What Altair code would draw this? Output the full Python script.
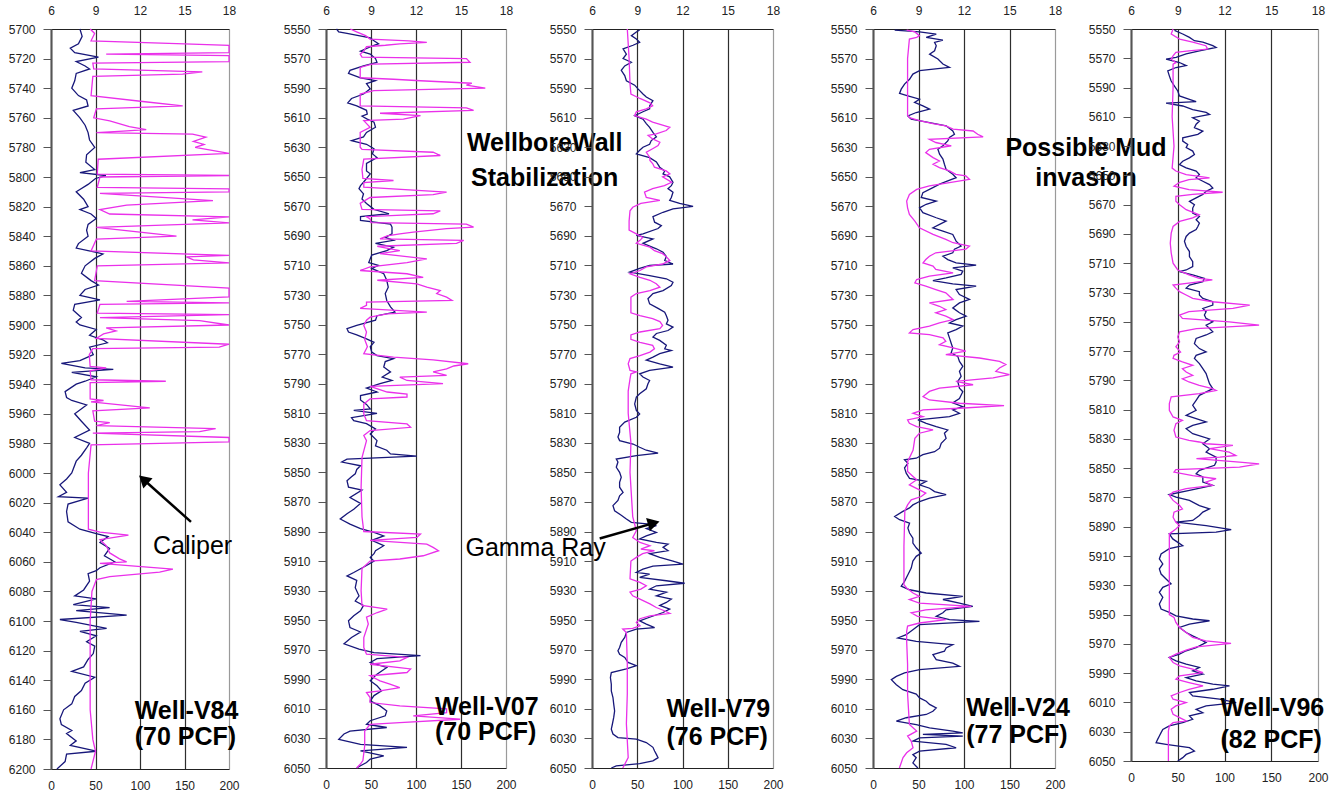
import math
import altair as alt
import pandas as pd

NAVY = "#17177a"
MAGENTA = "#ea30ea"
FONT = "Liberation Sans"

# ---------------- log readings: (depth ft, caliper in) and (depth ft, gamma API) ----------------
V84_CALIPER = [
    (5700, 7.95), (5705, 8.1), (5710, 7.85), (5713, 7.3), (5716, 7.6), (5719, 9.2), (5722, 7.7), (5725, 8.3),
    (5727, 8.6), (5730, 7.7), (5735, 7.6), (5740, 7.4), (5745, 7.85), (5748, 8.4), (5752, 8.5), (5755, 7.5),
    (5760, 7.95), (5765, 8.3), (5770, 8.5), (5775, 8.6), (5780, 8.95), (5785, 8.4), (5790, 8.35), (5795, 8.95),
    (5797, 7.95), (5799, 9.7), (5801, 9.0), (5805, 8.5), (5810, 7.7), (5815, 8.2), (5820, 8.5), (5822, 7.95),
    (5825, 8.7), (5828, 9.05), (5832, 8.5), (5836, 8.4), (5840, 8.5), (5845, 7.85), (5848, 7.7), (5851, 9.05),
    (5852, 9.5), (5855, 8.95), (5860, 8.3), (5865, 8.05), (5870, 8.7), (5873, 9.2), (5876, 8.3), (5880, 7.95),
    (5883, 9.3), (5886, 7.6), (5890, 7.5), (5895, 8.05), (5898, 7.7), (5900, 7.95), (5903, 9.05), (5907, 8.6),
    (5910, 9.5), (5912, 9.8), (5915, 8.6), (5920, 8.85), (5924, 7.95), (5926, 6.7), (5929, 8.3), (5930, 10.2),
    (5932, 7.4), (5935, 9.05), (5938, 8.3), (5940, 7.7), (5945, 6.95), (5949, 7.05), (5951, 7.4), (5954, 8.4),
    (5960, 7.6), (5965, 8.05), (5971, 8.6), (5976, 7.6), (5980, 8.6), (5983, 8.4), (5988, 8.05), (5992, 7.7),
    (6000, 7.4), (6004, 7.05), (6008, 6.6), (6013, 7.05), (6016, 6.5), (6017, 8.5), (6021, 7.15), (6026, 7.05),
    (6033, 7.15), (6038, 7.95), (6041, 9.05), (6043, 9.85), (6047, 9.3), (6051, 9.95), (6056, 9.6), (6060, 10.3),
    (6064, 9.3), (6066, 9.05), (6068, 8.5), (6073, 8.6), (6079, 8.2), (6083, 7.6), (6085, 9.05), (6089, 7.5),
    (6091, 9.95), (6093, 7.7), (6096, 11.1), (6099, 6.6), (6101, 7.7), (6105, 9.75), (6107, 7.95), (6110, 9.05),
    (6114, 8.4), (6117, 8.95), (6122, 8.85), (6126, 8.5), (6131, 8.2), (6134, 7.4), (6138, 8.95), (6142, 8.3),
    (6147, 8.05), (6151, 7.6), (6156, 7.4), (6160, 6.85), (6166, 6.6), (6170, 6.7), (6174, 7.4), (6176, 7.05),
    (6181, 7.7), (6184, 7.3), (6188, 9.05), (6190, 7.05), (6195, 6.95), (6200, 6.4),
]
V84_GAMMA = [
    (5700, 44), (5703, 49), (5708, 45), (5710, 150), (5711, 200), (5716, 200), (5717, 62), (5718, 200),
    (5722, 200), (5723, 47), (5727, 48), (5729, 170), (5730.5, 148), (5732, 47), (5745, 45), (5749, 103),
    (5752, 148), (5754, 51), (5760, 48), (5762, 66), (5766, 88), (5768, 107), (5769, 81), (5770, 51),
    (5771, 159), (5773, 174), (5776, 160), (5778, 172), (5780, 162), (5784, 200), (5788, 53), (5798, 52),
    (5799, 200), (5800, 55), (5807, 52), (5808, 200), (5810, 200), (5811, 55), (5816, 182), (5819, 85),
    (5822, 55), (5825, 66), (5827, 200), (5829, 159), (5831, 200), (5834, 51), (5840, 141), (5842, 51),
    (5850, 45), (5853, 200), (5854, 152), (5856, 160), (5858, 200), (5860, 52), (5870, 49), (5875, 200),
    (5881, 200), (5884, 85), (5885, 200), (5886, 55), (5892, 52), (5893, 200), (5895, 55), (5897, 167),
    (5900, 200), (5902, 62), (5904, 73), (5906, 59), (5909, 51), (5913, 200), (5915, 189), (5916, 47),
    (5920, 43), (5928, 44), (5929, 62), (5931, 44), (5937, 45), (5938, 129), (5939, 44), (5950, 44),
    (5951, 59), (5952, 45), (5956, 111), (5958, 47), (5965, 49), (5966, 66), (5968, 51), (5970, 185),
    (5972, 167), (5973, 47), (5976, 200), (5979, 200), (5981, 45), (6000, 42), (6020, 42), (6038, 42),
    (6040, 55), (6042, 87), (6045, 55), (6049, 62), (6054, 66), (6058, 77), (6060, 85), (6061, 55),
    (6065, 137), (6067, 122), (6070, 66), (6072, 51), (6080, 46), (6100, 44), (6130, 44), (6160, 44),
    (6180, 47), (6188, 50), (6200, 45),
]

V07_CALIPER = [
    (5550, 6.7), (5552, 6.85), (5553, 7.4), (5556, 8.95), (5558, 9.2), (5560, 9.5), (5561, 9.2), (5565, 8.3),
    (5567, 8.95), (5570, 9.3), (5572.5, 9.4), (5575, 8.5), (5578, 7.6), (5580, 7.5), (5583, 8.3), (5585, 9.3),
    (5587, 8.7), (5590.5, 8.95), (5594, 8.5), (5597, 7.7), (5600, 7.45), (5602, 8.05), (5605, 8.7),
    (5607.5, 8.75), (5609, 8.4), (5611, 8.75), (5613, 9.2), (5616.5, 9.3), (5620, 8.7), (5623, 8.5),
    (5625.5, 7.7), (5628, 8.7), (5631, 9.2), (5634.5, 9.1), (5637, 9.4), (5641, 8.7), (5646, 8.7),
    (5648, 8.95), (5653.7, 8.5), (5656, 8.3), (5658, 8.2), (5661.5, 8.5), (5665, 8.4), (5668, 8.7),
    (5672, 9.2), (5675, 10.2), (5677, 8.3), (5679.5, 8.3), (5682, 10.3), (5684, 10.4), (5688.6, 10.4),
    (5691, 9.95), (5693, 10.5), (5695, 9.3), (5697.6, 10.5), (5700, 10.05), (5703, 9.05), (5705.5, 8.95),
    (5708, 8.85), (5710, 9.5), (5712, 9.05), (5715.6, 9.85), (5720, 10.05), (5724.7, 10.15), (5729, 9.95),
    (5733.7, 10.05), (5738, 10.3), (5741.6, 10.6), (5744, 9.4), (5747, 9.3), (5750.6, 8.05), (5752.8, 7.4),
    (5755, 7.5), (5757, 8.05), (5759.6, 8.7), (5762, 9.2), (5765, 8.95), (5768.6, 9.05), (5771, 9.4),
    (5773, 10.5), (5775, 9.95), (5778.7, 9.85), (5782, 10.3), (5785.5, 9.75), (5787.8, 10.4), (5790, 9.6),
    (5793, 8.7), (5795.6, 9.4), (5798, 8.3), (5801, 8.3), (5804, 8.7), (5807, 8.95), (5808, 7.85),
    (5810, 9.4), (5813, 7.7), (5815, 7.85), (5817, 8.7), (5820.6, 9.3), (5824, 8.95), (5828.5, 9.4),
    (5832, 9.3), (5835, 10.05), (5837.5, 10.3), (5839, 12.05), (5841, 7.4), (5843, 7.05), (5845.5, 8.3),
    (5848, 8.05), (5851, 7.95), (5853, 7.7), (5855.6, 7.4), (5860, 7.5), (5862, 8.4), (5867, 7.6),
    (5871, 8.3), (5875, 7.85), (5878, 7.4), (5881.5, 6.95), (5885, 7.6), (5888, 8.3), (5890.6, 9.2),
    (5893, 9.85), (5896, 9.05), (5899.6, 9.85), (5903, 9.3), (5905, 9.2), (5907.5, 8.95), (5910, 9.2),
    (5913, 8.7), (5917.7, 7.85), (5920, 7.4), (5923, 8.05), (5928, 7.95), (5933.5, 8.2), (5937, 7.95),
    (5940, 8.5), (5943.6, 8.3), (5947, 7.85), (5950.4, 7.5), (5955, 7.6), (5958, 8.3), (5961.7, 7.7),
    (5966, 7.2), (5969.6, 8.2), (5972, 9.2), (5974, 12.3), (5976, 9.4), (5978.6, 8.95), (5982, 10.05),
    (5986.5, 9.4), (5991, 8.95), (5994.4, 9.4), (5997.8, 9.7), (6001, 9.2), (6004.6, 8.95), (6008, 9.6),
    (6011.4, 10.05), (6014.7, 9.95), (6018, 8.95), (6020.4, 8.7), (6022.6, 10.05), (6025, 7.6), (6027, 7.2),
    (6030.6, 6.85), (6034, 8.3), (6036, 11.4), (6038.4, 8.3), (6041.8, 9.85), (6044, 8.95), (6046.3, 8.7),
    (6048.5, 8.3), (6050, 8.05),
]
V07_GAMMA = [
    (5550, 27), (5552, 34), (5554.5, 44), (5556.8, 49), (5558, 92), (5559, 112), (5560, 82), (5561, 66),
    (5562, 45), (5565, 42), (5567, 38), (5569, 40), (5570, 156), (5572.5, 160), (5573.7, 51), (5576, 38),
    (5583, 38), (5584, 75), (5585, 105), (5586.7, 162), (5588, 156), (5590, 177), (5591.7, 53), (5594, 38),
    (5602, 38), (5603.4, 156), (5605, 164), (5607, 60), (5608.6, 105), (5611, 86), (5612, 42), (5616.5, 49),
    (5620, 38), (5630, 38), (5631.5, 40), (5633.4, 119), (5635.6, 127), (5638, 42), (5645, 40), (5651, 41),
    (5652.5, 75), (5654, 42), (5657, 42), (5660.4, 134), (5662, 119), (5664, 49), (5668, 38), (5672, 40),
    (5673, 127), (5675, 119), (5677, 45), (5678.5, 49), (5681, 50), (5682, 156), (5684, 164), (5685, 134),
    (5687.5, 97), (5688.6, 82), (5690, 68), (5692, 60), (5693, 153), (5695, 145), (5697, 57), (5700, 82),
    (5702, 60), (5705.5, 112), (5708, 90), (5711, 49), (5713.4, 38), (5715.6, 90), (5718, 108), (5720, 57),
    (5722.4, 101), (5724.7, 112), (5727, 127), (5729, 123), (5731.4, 134), (5733.7, 140), (5734.8, 45),
    (5737, 45), (5739, 38), (5741.6, 112), (5742.7, 68), (5745, 49), (5747, 45), (5750.6, 42), (5755, 45),
    (5760, 43), (5765, 46), (5769.7, 42), (5772, 75), (5773.8, 119), (5776.5, 158), (5778, 142), (5780, 134),
    (5782, 119), (5784.4, 134), (5785.5, 82), (5787.8, 90), (5790, 130), (5791.8, 49), (5795.6, 68),
    (5797, 90), (5799, 90), (5800.3, 49), (5803.7, 42), (5810.5, 42), (5815, 45), (5817.2, 90), (5819.5, 94),
    (5821.7, 49), (5825, 42), (5828.5, 45), (5840, 40), (5860, 39), (5880, 40), (5890, 42), (5891.7, 105),
    (5894, 101), (5896, 49), (5898.5, 112), (5900.7, 119), (5903, 125), (5906.4, 108), (5908.6, 82),
    (5910, 49), (5915, 40), (5930, 39), (5940, 40), (5942.5, 68), (5944.8, 57), (5948, 45), (5952.6, 47),
    (5961.7, 42), (5968.5, 42), (5973, 45), (5975.2, 90), (5977.5, 82), (5979.8, 49), (5983, 94),
    (5985.4, 90), (5987.6, 49), (5991, 60), (5993.3, 71), (5995.6, 82), (5997.8, 60), (5999, 45),
    (6002.3, 49), (6005.7, 49), (6008, 82), (6010, 134), (6012.5, 134), (6014.7, 97), (6017, 149),
    (6019.3, 82), (6020.5, 49), (6025, 43), (6035, 43), (6045, 41), (6047.5, 38), (6050, 34),
]

V79_CALIPER = [
    (5550.7, 9.16), (5552, 8.94), (5554.5, 8.61), (5556.8, 8.94), (5559, 9.16), (5561, 8.72), (5563.5, 8.06),
    (5567, 8.28), (5570, 8.06), (5572.5, 8.61), (5575, 8.17), (5578, 7.94), (5581.5, 8.17), (5585, 8.28),
    (5588, 8.83), (5590.5, 9.05), (5594, 9.38), (5596, 9.6), (5598.5, 10.04), (5602, 9.82), (5604, 9.82),
    (5606, 9.38), (5608.6, 8.83), (5611, 9.38), (5614, 9.6), (5616.5, 9.82), (5620, 10.04), (5623, 10.27),
    (5625.5, 9.93), (5628, 9.82), (5630, 9.38), (5632, 9.16), (5634.5, 8.94), (5637, 9.82), (5640, 10.27),
    (5643.5, 10.49), (5646, 10.82), (5648, 10.71), (5650, 11.15), (5653.7, 11.37), (5656, 11.26),
    (5658, 11.04), (5660.4, 11.37), (5664, 11.26), (5666, 11.15), (5668, 11.81), (5670, 12.7),
    (5671.7, 11.37), (5674, 10.71), (5677, 10.04), (5680.7, 10.15), (5683, 10.6), (5685, 10.38),
    (5688.6, 9.38), (5689.7, 8.94), (5692, 10.04), (5695, 9.38), (5698.7, 10.27), (5701, 10.71),
    (5704, 10.93), (5706.6, 10.82), (5709, 11.37), (5710, 9.82), (5712, 9.16), (5714.5, 8.5), (5716.8, 9.82),
    (5719, 10.93), (5721.3, 11.37), (5723.5, 11.26), (5727, 10.71), (5729, 10.04), (5732.5, 9.71),
    (5736, 9.82), (5739, 10.38), (5741.6, 10.82), (5744, 10.93), (5747, 11.04), (5749.5, 10.93),
    (5751.7, 11.37), (5754, 11.04), (5756, 10.27), (5758.5, 10.04), (5760.7, 10.49), (5764, 10.93),
    (5766.4, 10.82), (5767.5, 11.26), (5769.7, 10.49), (5772, 10.04), (5774, 9.6), (5776.5, 10.49),
    (5778.7, 11.37), (5781, 9.82), (5783.3, 9.16), (5785.5, 9.38), (5787.8, 9.82), (5790, 9.71),
    (5793.4, 9.6), (5796.8, 9.16), (5799, 8.94), (5803.7, 8.83), (5808, 8.94), (5810.5, 9.16),
    (5812.7, 8.94), (5816, 8.17), (5819.5, 7.83), (5823, 7.83), (5826, 7.72), (5828.5, 7.83),
    (5830.8, 8.72), (5833, 9.16), (5835, 9.6), (5837, 10.38), (5838.7, 8.94), (5841, 7.61), (5843, 7.72),
    (5846.5, 7.61), (5850, 7.83), (5853.3, 7.94), (5856.7, 7.83), (5860, 7.83), (5863.5, 8.06),
    (5865.8, 7.83), (5869, 7.72), (5872.5, 7.39), (5876, 7.5), (5879, 7.94), (5881.5, 8.28), (5883.8, 8.61),
    (5885, 9.82), (5886, 10.27), (5888, 9.6), (5890.6, 10.27), (5893, 9.6), (5895, 9.16), (5897.4, 10.27),
    (5898.5, 11.04), (5900.7, 10.71), (5903, 11.04), (5905, 9.82), (5907.5, 10.49), (5910, 11.37),
    (5912, 12.03), (5913.4, 10.04), (5915.4, 9.38), (5917.7, 8.94), (5918.8, 9.82), (5921, 9.16),
    (5923.3, 10.93), (5925, 12.14), (5926.7, 10.27), (5929, 9.82), (5931, 10.93), (5933.5, 10.27),
    (5935.7, 11.26), (5938, 10.93), (5940, 10.49), (5942.5, 11.15), (5944.8, 10.71), (5948, 9.82),
    (5950.4, 9.16), (5952.6, 9.6), (5955, 10.15), (5956, 8.94), (5958.3, 8.28), (5961.7, 8.17),
    (5965, 7.94), (5968.5, 7.83), (5970.7, 7.72), (5973, 7.83), (5975.2, 8.17), (5978.6, 8.39),
    (5980.8, 8.94), (5983, 8.28), (5985.4, 7.28), (5988.8, 7.22), (5993.3, 7.28), (5997.8, 7.28),
    (6002.3, 7.39), (6006.8, 7.44), (6011.4, 7.5), (6015.8, 7.44), (6020.4, 7.35), (6023.7, 7.28),
    (6027, 7.39), (6029.4, 7.72), (6030.5, 8.94), (6032.8, 9.6), (6036, 10.04), (6038.5, 10.15),
    (6040.8, 10.27), (6043, 10.38), (6045.2, 10.04), (6047, 9.16), (6048.6, 7.61), (6050, 7.28),
]
V79_GAMMA = [
    (5550, 39), (5570, 41), (5587, 42), (5594, 43), (5597, 53), (5600, 64), (5602, 67), (5604, 60),
    (5606, 49), (5608.6, 47), (5611, 60), (5613, 67), (5615, 78), (5616.5, 86), (5618.7, 82), (5621, 71),
    (5622, 62), (5624.4, 67), (5626.6, 75), (5628.9, 73), (5631, 67), (5633.4, 60), (5637, 64), (5639, 64),
    (5641, 67), (5643.5, 69), (5646, 82), (5648, 86), (5650, 78), (5653.7, 88), (5656, 80), (5658, 67),
    (5660.4, 58), (5664, 60), (5666, 75), (5668, 54), (5670.6, 45), (5673, 42), (5680, 41), (5686, 41),
    (5688.6, 49), (5691, 56), (5693, 53), (5695, 49), (5697.6, 64), (5700, 69), (5702, 78), (5704, 82),
    (5706.6, 86), (5709, 78), (5711, 60), (5713.4, 53), (5715.6, 42), (5718, 53), (5720, 64), (5722.4, 71),
    (5724.7, 75), (5727, 64), (5729, 49), (5731.4, 43), (5742, 43), (5744, 53), (5746, 67), (5748, 75),
    (5750.6, 78), (5752.8, 75), (5755, 53), (5757, 43), (5760, 43), (5762, 53), (5764, 67), (5766.4, 69),
    (5768.6, 64), (5771, 53), (5773, 42), (5776.5, 40), (5781, 42), (5782, 49), (5783.3, 43), (5786.7, 42),
    (5795, 40), (5810, 40), (5830, 43), (5850, 42), (5870, 44), (5880, 45), (5889.5, 49), (5894, 45),
    (5897.4, 53), (5899.6, 64), (5901.9, 54), (5903, 69), (5905, 56), (5907.5, 49), (5910, 43), (5922, 42),
    (5924.4, 53), (5926.7, 60), (5929, 54), (5931, 42), (5933.5, 45), (5935.7, 53), (5939, 64), (5941.4, 71),
    (5943.6, 80), (5945.4, 86), (5947, 64), (5949, 53), (5951.5, 49), (5953.8, 53), (5955.5, 45),
    (5956, 34), (5958.3, 38), (5980, 39), (6000, 39), (6020, 38), (6043, 40), (6050, 34),
]

V24_CALIPER = [
    (5550.7, 7.43), (5552, 9.07), (5553.4, 10.17), (5555.6, 9.51), (5557.5, 10.61), (5559, 10.06),
    (5561.3, 10.17), (5564.7, 10.06), (5567, 9.73), (5570.3, 10.28), (5573.7, 10.61), (5576, 11.04),
    (5578.2, 9.07), (5580.5, 8.63), (5584, 8.41), (5587.3, 8.08), (5590.7, 7.86), (5593.6, 7.75),
    (5595.2, 8.3), (5597.5, 9.07), (5599.7, 8.74), (5602, 9.29), (5604.2, 9.73), (5606.5, 8.85),
    (5608.8, 8.3), (5611, 8.52), (5613.3, 9.73), (5615.5, 10.82), (5619, 11.26), (5621.2, 11.37),
    (5623.4, 11.04), (5625.7, 10.93), (5629, 10.61), (5631.4, 10.28), (5634.7, 10.39), (5638, 10.61),
    (5641.5, 10.71), (5645, 10.82), (5648.3, 11.26), (5650.6, 11.48), (5652.8, 10.93), (5655, 10.39),
    (5657.3, 9.95), (5660.7, 9.29), (5664, 9.18), (5666.4, 10.17), (5668.6, 9.51), (5671, 9.07),
    (5674.3, 9.29), (5677.7, 10.17), (5680, 10.82), (5682.2, 10.39), (5684.5, 9.95), (5686.7, 10.61),
    (5689, 11.26), (5691.2, 11.37), (5693.5, 11.48), (5696.9, 11.81), (5699, 11.37), (5701.4, 11.26),
    (5703.7, 10.61), (5706, 10.93), (5708.2, 11.48), (5709.8, 12.8), (5711.6, 11.26), (5713.8, 11.92),
    (5716, 11.81), (5718.4, 10.82), (5720.2, 9.95), (5722.4, 11.26), (5724, 12.8), (5726.3, 11.48),
    (5729.7, 11.7), (5733, 12.36), (5735.3, 11.7), (5738.7, 11.26), (5742, 11.7), (5744.3, 12.14),
    (5746.6, 11.48), (5748.9, 11.04), (5751, 11.92), (5753.4, 11.48), (5755.6, 10.93), (5759, 11.04),
    (5762.4, 11.15), (5765.8, 11.26), (5769.2, 11.15), (5771.5, 11.59), (5774.9, 11.7), (5778.2, 11.92),
    (5781.6, 11.7), (5785, 11.81), (5788.4, 11.59), (5793, 11.7), (5795.4, 11.92), (5800, 11.7),
    (5803, 11.26), (5805.5, 11.92), (5807.7, 11.26), (5810, 11.7), (5812.2, 11.04), (5814.5, 8.96),
    (5816.8, 9.51), (5819, 10.17), (5821.3, 10.93), (5823.5, 10.71), (5827, 10.82), (5830.3, 10.5),
    (5833.6, 10.39), (5836, 10.06), (5838, 9.29), (5840.4, 8.85), (5841.5, 8.08), (5843.8, 8.3),
    (5847, 8.08), (5850.5, 8.19), (5854, 8.41), (5856, 9.51), (5858.4, 9.07), (5860.7, 9.73),
    (5863, 10.06), (5865, 10.82), (5867.4, 9.73), (5869.7, 9.07), (5872, 8.63), (5874, 8.41),
    (5876.4, 7.97), (5879.8, 7.43), (5882, 7.75), (5884.3, 8.41), (5887.7, 8.3), (5891, 8.41),
    (5894.5, 8.63), (5897.8, 8.63), (5901, 8.85), (5904.6, 9.18), (5906.8, 8.85), (5910, 8.63),
    (5914.7, 8.52), (5919.2, 8.3), (5923.7, 8.08), (5927, 7.86), (5929.4, 8.41), (5931.6, 9.51),
    (5933.9, 11.92), (5936, 10.61), (5938.4, 11.7), (5940.6, 12.58), (5943, 10.82), (5945, 10.61),
    (5947.4, 10.17), (5949.6, 11.04), (5950.8, 13.02), (5953, 9.07), (5956.4, 8.63), (5959.8, 8.19),
    (5962, 7.64), (5964.3, 8.85), (5966.5, 11.26), (5968.8, 10.82), (5971, 10.71), (5973.3, 9.95),
    (5976.7, 10.17), (5979, 11.26), (5981.2, 11.7), (5983.4, 9.07), (5985.7, 8.08), (5988, 7.54),
    (5990.2, 7.21), (5993.6, 7.54), (5997, 7.97), (6000, 8.85), (6002.6, 9.07), (6004.8, 9.51),
    (6007, 9.73), (6009.3, 10.17), (6011.6, 9.95), (6013.8, 9.51), (6016, 8.19), (6018.3, 7.54),
    (6020.6, 8.85), (6022.8, 9.73), (6025, 11.26), (6026.2, 11.92), (6027.3, 9.29), (6028.4, 11.92),
    (6029.6, 9.07), (6031.8, 8.63), (6034, 10.82), (6036.3, 11.48), (6038.6, 9.07), (6040.9, 8.63),
    (6043, 8.85), (6046.6, 8.63), (6050, 8.96),
]
V24_GAMMA = [
    (5550.7, 37), (5552, 46), (5554.5, 51), (5555.6, 48), (5556.8, 40), (5570, 38), (5590, 38), (5608, 38),
    (5610, 40), (5612, 51), (5614, 66), (5615.5, 80), (5617.8, 88), (5619, 110), (5621.2, 115), (5623, 121),
    (5624.6, 62), (5626.8, 69), (5629, 86), (5631.4, 62), (5633.6, 58), (5637, 66), (5639.3, 73),
    (5641.5, 66), (5643.8, 73), (5646, 84), (5648.3, 91), (5649.4, 102), (5651.7, 106), (5654, 84),
    (5656.2, 62), (5658.5, 48), (5661.9, 40), (5666.4, 37), (5671, 38), (5675.4, 40), (5680, 46),
    (5684.5, 51), (5689, 66), (5692.4, 80), (5694.6, 88), (5696.9, 106), (5699, 102), (5701.4, 69),
    (5703.7, 62), (5706, 58), (5708.2, 55), (5710.4, 66), (5712.7, 69), (5715, 88), (5717.2, 62),
    (5719.5, 48), (5721.7, 46), (5724, 58), (5726.3, 69), (5728.5, 80), (5730.8, 84), (5733, 88),
    (5735.3, 62), (5737.6, 73), (5739.8, 80), (5742, 69), (5744.3, 80), (5746.6, 88), (5748.9, 73),
    (5751, 62), (5753.4, 44), (5755.6, 40), (5756.8, 62), (5759, 77), (5761.3, 80), (5763.6, 73),
    (5765.8, 88), (5768, 102), (5770.3, 80), (5772.6, 117), (5774.9, 139), (5777, 146), (5779.4, 139),
    (5781.6, 135), (5783.9, 150), (5786, 132), (5788.4, 91), (5790.7, 110), (5793, 73), (5795.2, 62),
    (5798.7, 55), (5801, 62), (5803.2, 95), (5804.8, 144), (5806.6, 95), (5807.7, 55), (5810, 44),
    (5812.2, 55), (5814.5, 38), (5816.8, 40), (5819, 48), (5821.3, 66), (5823.5, 51), (5827, 46),
    (5835, 44), (5842.7, 38), (5849.4, 38), (5852.8, 44), (5855, 48), (5858.4, 40), (5861.8, 51),
    (5864, 58), (5866.3, 53), (5868.6, 42), (5872, 38), (5876, 35), (5900, 34), (5926, 34), (5928.2, 37),
    (5931.6, 44), (5933.9, 51), (5936, 40), (5938.4, 51), (5940.6, 108), (5943, 58), (5945, 42),
    (5947.4, 49), (5949.6, 80), (5951.9, 51), (5954, 38), (5957.5, 37), (5964.3, 37), (5980, 38),
    (6000, 38), (6020.6, 40), (6025, 48), (6028.4, 38), (6031.8, 42), (6036.3, 44), (6039.7, 37),
    (6043, 33), (6050, 29),
]

V96_CALIPER = [
    (5551, 8.79), (5553.4, 9.32), (5555.7, 9.75), (5558, 10.07), (5559, 10.61), (5561.4, 11.25),
    (5562.6, 11.46), (5565, 10.39), (5567, 9.54), (5569.4, 8.89), (5570.6, 8.25), (5572.9, 9.11),
    (5575, 9.54), (5576.3, 8.89), (5578.6, 8.36), (5582, 8.46), (5585.4, 8.57), (5589, 8.79), (5592.3, 9.0),
    (5595.7, 9.11), (5598, 9.75), (5599.6, 10.18), (5600.7, 8.25), (5602.6, 9.32), (5605, 9.96),
    (5607, 10.82), (5608.3, 11.04), (5610.6, 9.96), (5612.9, 10.39), (5615, 10.18), (5617.4, 10.07),
    (5619.7, 10.61), (5622, 10.29), (5624.3, 9.32), (5626.6, 9.32), (5628.9, 9.64), (5631, 9.54),
    (5633.4, 9.96), (5635.7, 10.07), (5638, 9.75), (5640.3, 9.32), (5642.6, 9.11), (5644.9, 9.54),
    (5647, 10.18), (5649.4, 10.39), (5651.7, 10.18), (5654, 10.61), (5656.3, 11.04), (5658.6, 11.25),
    (5660.9, 10.82), (5663, 10.61), (5665.4, 10.18), (5667.7, 9.75), (5670, 10.07), (5672.3, 9.96),
    (5675.7, 9.96), (5678, 10.39), (5680.3, 10.18), (5682.6, 10.39), (5684.9, 10.29), (5687, 10.18),
    (5689.4, 9.75), (5691.7, 9.54), (5695, 9.43), (5698.6, 9.54), (5702, 9.75), (5705.4, 9.75),
    (5708.9, 9.96), (5712.3, 9.96), (5714.6, 9.54), (5715.7, 9.11), (5718, 9.96), (5720.3, 10.71),
    (5722.6, 10.61), (5724.9, 9.75), (5727, 9.54), (5729.4, 10.39), (5731.7, 10.39), (5734, 10.61),
    (5736.3, 11.25), (5738.6, 11.25), (5740.9, 10.61), (5743.1, 10.82), (5745.4, 10.71), (5747.7, 10.82),
    (5750, 11.25), (5752.3, 10.82), (5754.6, 11.04), (5756.9, 11.25), (5759, 10.82), (5761.4, 10.18),
    (5764.9, 10.07), (5768.3, 10.39), (5770.6, 10.82), (5772.9, 10.18), (5775, 10.07), (5778.6, 10.39),
    (5782, 10.61), (5785.4, 10.82), (5788.9, 10.93), (5792.3, 11.04), (5795.7, 11.25), (5800.2, 10.39),
    (5803.6, 10.18), (5807, 9.96), (5810.5, 10.18), (5813.9, 9.54), (5816.2, 10.18), (5818.4, 10.82),
    (5820.7, 9.96), (5823, 9.54), (5826.4, 9.96), (5830, 11.04), (5833.3, 10.61), (5836.7, 11.04),
    (5839, 10.82), (5842.4, 11.46), (5845.8, 11.46), (5848, 11.36), (5851.5, 10.39), (5853.8, 10.18),
    (5856, 10.61), (5859.5, 10.61), (5861.8, 11.25), (5865.2, 9.75), (5868, 8.46), (5869.8, 8.89),
    (5872, 9.75), (5875.5, 10.39), (5877.8, 11.04), (5880, 10.61), (5882.3, 10.39), (5885.7, 9.96),
    (5886.9, 8.89), (5889.2, 10.82), (5892, 12.43), (5893.7, 11.46), (5894.9, 8.46), (5898.3, 8.68),
    (5902.9, 9.32), (5905, 8.46), (5908.6, 7.93), (5912, 7.82), (5915.4, 8.04), (5918.8, 7.82),
    (5922.3, 7.93), (5925.7, 8.25), (5929, 8.57), (5931.4, 8.04), (5934.8, 7.82), (5938.2, 8.04),
    (5942.8, 7.82), (5946.2, 7.93), (5948.5, 8.46), (5950.8, 8.89), (5953, 9.96), (5954.2, 11.04),
    (5956.5, 9.75), (5958.8, 9.11), (5962.2, 9.54), (5964.5, 9.96), (5966.7, 10.39), (5969, 10.82),
    (5970.2, 10.61), (5972.5, 10.18), (5974.7, 9.54), (5977, 9.11), (5979.3, 8.46), (5981.6, 8.89),
    (5983.9, 9.54), (5986.1, 10.39), (5988.4, 9.96), (5990.7, 10.61), (5993, 9.54), (5995.3, 10.18),
    (5997.5, 11.25), (5998.7, 12.32), (6001, 11.25), (6003.2, 9.75), (6005.5, 9.96), (6007.8, 11.68),
    (6010.1, 12.75), (6012.4, 10.82), (6014.7, 10.18), (6017, 10.61), (6019.2, 9.75), (6021.5, 9.96),
    (6023.8, 9.32), (6026, 8.46), (6028.4, 8.04), (6030.6, 7.93), (6032.9, 7.82), (6035.2, 7.71),
    (6037.5, 7.61), (6038.6, 8.25), (6040.9, 9.75), (6043.2, 10.07), (6045.5, 9.54), (6047.7, 9.32),
    (6050, 9.0),
]
V96_GAMMA = [
    (5550, 45), (5553.4, 43), (5556.9, 52), (5559, 66), (5561.4, 80), (5563.7, 82), (5565, 62), (5566, 48),
    (5568.3, 45), (5570.6, 43), (5573, 48), (5574, 45), (5590, 45), (5610, 44), (5630, 46), (5645, 44),
    (5647, 48), (5649.4, 59), (5650.6, 73), (5651.7, 84), (5652.9, 62), (5654.7, 52), (5657.4, 46),
    (5659.7, 62), (5661.5, 98), (5663, 66), (5664.3, 48), (5667.7, 48), (5670, 52), (5673.4, 59),
    (5676.9, 73), (5679, 66), (5681.4, 52), (5684.9, 45), (5689.4, 43), (5696.3, 42), (5703, 43),
    (5710, 45), (5714.6, 50), (5718, 62), (5720.3, 73), (5721.4, 87), (5723.3, 66), (5724.9, 45),
    (5727, 48), (5729.4, 52), (5731.7, 59), (5734, 66), (5736.3, 87), (5738.6, 127), (5740.9, 109),
    (5743.1, 62), (5745.4, 52), (5747.7, 55), (5750, 105), (5752.3, 137), (5754.6, 70), (5756.9, 52),
    (5760.3, 50), (5763.7, 52), (5767, 48), (5770.6, 53), (5772.9, 46), (5775, 45), (5777.4, 55),
    (5779.7, 66), (5782, 55), (5784.3, 59), (5786.6, 66), (5788.9, 55), (5791.1, 62), (5793.4, 73),
    (5795.7, 87), (5796.9, 91), (5799, 73), (5801.3, 43), (5805.9, 41), (5810.5, 41), (5815, 45),
    (5817.3, 55), (5819.6, 48), (5824, 46), (5828.7, 48), (5831, 62), (5832.1, 73), (5833.3, 80),
    (5834.4, 109), (5836.7, 84), (5839, 105), (5841.3, 112), (5842.4, 95), (5843.5, 70), (5845.8, 116),
    (5847, 137), (5849.2, 116), (5851, 48), (5852.7, 46), (5855, 66), (5857.2, 91), (5859.5, 80),
    (5861.8, 87), (5864, 59), (5866.4, 45), (5868.6, 41), (5872, 45), (5875.5, 52), (5877.8, 55),
    (5880, 46), (5883.5, 45), (5886.9, 48), (5889.2, 52), (5891.5, 48), (5894.9, 41), (5920, 41),
    (5950, 41), (5951.9, 46), (5955.3, 48), (5958.8, 52), (5962.2, 59), (5965.6, 66), (5967.9, 80),
    (5969.7, 107), (5972, 70), (5974.3, 59), (5977, 48), (5979.3, 41), (5982.7, 45), (5985, 52),
    (5987.3, 66), (5989.6, 77), (5991.8, 52), (5994.1, 48), (5996.4, 62), (5998.7, 77), (6001, 62),
    (6003.2, 52), (6005.5, 43), (6007.8, 45), (6010.1, 59), (6012.4, 48), (6014.7, 43), (6018.1, 45),
    (6020.4, 52), (6022.6, 59), (6023.8, 45), (6026, 41), (6029.5, 40), (6050, 40),
]

# ---------------- panel definitions ----------------
CALIPER_TICKS = [6, 9, 12, 15, 18]
GAMMA_TICKS = [0, 50, 100, 150, 200]
DEPTH_SPAN = 500
GAPS = [97, 86, 100, 76]

WELLS = [
    dict(name="Well-V84", mud="(70 PCF)", top=5700, w=178, h=740,
         cal=V84_CALIPER, gr=V84_GAMMA, tag_gr=94, tag_depth=(6166, 6183.5),
         notes=[dict(gr=114.6, depth=6054.9, text="Caliper", align="left", bold=False)],
         arrows=[(157.3, 6033, 98.9, 6001.7)]),
    dict(name="Well-V07", mud="(70 PCF)", top=5550, w=180, h=739,
         cal=V07_CALIPER, gr=V07_GAMMA, tag_gr=121, tag_depth=(6014.4, 6031.3),
         notes=[dict(gr=243, depth=5632.3, text="WellboreWall", align="center", bold=True),
                dict(gr=243, depth=5656.0, text="Stabilization", align="center", bold=True)],
         arrows=[]),
    dict(name="Well-V79", mud="(76 PCF)", top=5550, w=181, h=739,
         cal=V79_CALIPER, gr=V79_GAMMA, tag_gr=82.3, tag_depth=(6015.5, 6034.6),
         notes=[dict(gr=15.2, depth=5906.5, text="Gamma Ray", align="right", bold=False)],
         arrows=[(8.5, 5894.7, 74.6, 5883.2)]),
    dict(name="Well-V24", mud="(77 PCF)", top=5550, w=182, h=739,
         cal=V24_CALIPER, gr=V24_GAMMA, tag_gr=102.4, tag_depth=(6015, 6033),
         notes=[dict(gr=234, depth=5635.8, text="Possible Mud", align="center", bold=True),
                dict(gr=234, depth=5656.1, text="invasion", align="center", bold=True)],
         arrows=[]),
    dict(name="Well-V96", mud="(82 PCF)", top=5550, w=187, h=732,
         cal=V96_CALIPER, gr=V96_GAMMA, tag_gr=95.7, tag_depth=(6019, 6040.9),
         notes=[], arrows=[]),
]


def depth_enc(top):
    return alt.Y(
        "depth:Q",
        scale=alt.Scale(domain=[top, top + DEPTH_SPAN], reverse=True, nice=False, zero=False),
        axis=alt.Axis(values=list(range(top, top + DEPTH_SPAN + 1, 20)), format="d", title=None,
                      grid=False, tickSize=8, labelPadding=8, tickColor="#555555",
                      domainColor="#555555", domainWidth=2),
    )


def gamma_enc():
    return alt.X(
        "gr:Q",
        scale=alt.Scale(domain=[0, 200], nice=False, zero=False),
        axis=alt.Axis(orient="bottom", values=GAMMA_TICKS, title=None, ticks=False, labelPadding=11,
                      labelFlush=False, domainColor="#222222", grid=True,
                      gridColor={"condition": {"test": "datum.value === 200", "value": "#9a9a9a"},
                                 "value": "#2e2e2e"},
                      gridWidth=1.2),
    )


def caliper_enc():
    return alt.X(
        "cal:Q",
        scale=alt.Scale(domain=[6, 18], nice=False, zero=False),
        axis=alt.Axis(orient="top", values=CALIPER_TICKS, title=None, ticks=False, labelPadding=12,
                      labelFlush=False, domainColor="#222222", grid=False),
    )


def text_layer(df, align, bold):
    return alt.Chart(df).mark_text(
        align=align, baseline="alphabetic", font=FONT, fontSize=25,
        fontWeight="bold" if bold else "normal", color="black",
    )


def panel(well):
    top, w, h = well["top"], well["w"], well["h"]
    y = depth_enc(top)

    cal_df = pd.DataFrame(well["cal"], columns=["depth", "cal"])
    gr_df = pd.DataFrame(well["gr"], columns=["depth", "gr"])

    caliper = alt.Chart(cal_df).mark_line(color=NAVY, strokeWidth=1.3).encode(
        x=caliper_enc(), y=y, order="depth:Q")
    gamma = alt.Chart(gr_df).mark_line(color=MAGENTA, strokeWidth=1.3).encode(
        x=gamma_enc(), y=y, order="depth:Q")

    tag_df = pd.DataFrame({"gr": [well["tag_gr"]] * 2, "depth": list(well["tag_depth"]),
                           "text": [well["name"], well["mud"]]})
    layers = [gamma, text_layer(tag_df, "left", True).encode(x=gamma_enc(), y=y, text="text:N")]

    for note in well["notes"]:
        nd = pd.DataFrame({"gr": [note["gr"]], "depth": [note["depth"]], "text": [note["text"]]})
        layers.append(text_layer(nd, note["align"], note["bold"]).encode(
            x=gamma_enc(), y=y, text="text:N"))

    for g0, d0, g1, d1 in well["arrows"]:
        px_gr, px_ft = w / 200.0, h / DEPTH_SPAN
        dx, dy = (g1 - g0) * px_gr, (d1 - d0) * px_ft
        length = math.hypot(dx, dy)
        ux, uy = dx / length, dy / length
        gc, dc = g1 - ux * 6 / px_gr, d1 - uy * 6 / px_ft
        angle = math.degrees(math.atan2(dx, -dy)) % 360
        shaft = pd.DataFrame({"gr": [g0], "depth": [d0], "gr2": [gc], "depth2": [dc]})
        head = pd.DataFrame({"gr": [gc], "depth": [dc]})
        layers.append(alt.Chart(shaft).mark_rule(color="black", strokeWidth=2.5).encode(
            x=gamma_enc(), x2="gr2:Q", y=y, y2="depth2:Q"))
        layers.append(alt.Chart(head).mark_point(
            shape="triangle-up", filled=True, size=190, angle=angle, color="black", opacity=1,
        ).encode(x=gamma_enc(), y=y))

    return alt.layer(caliper, alt.layer(*layers)).resolve_scale(x="independent").properties(
        width=w, height=h)


def spacer(width):
    return alt.Chart(pd.DataFrame({"v": [0]})).mark_point(opacity=0).properties(width=width, height=730)


items = []
for i, well in enumerate(WELLS):
    items.append(panel(well))
    if i < len(GAPS):
        items.append(spacer(GAPS[i]))

chart = alt.hconcat(*items, spacing=0, bounds="flush").properties(
    padding={"left": 8, "top": 4, "right": 5, "bottom": 2}
).configure_view(stroke=None).configure_axis(
    labelFont=FONT, labelFontSize=12, labelColor="#222222"
)

chart.save("out.html", embed_options={"renderer": "svg", "actions": False})
